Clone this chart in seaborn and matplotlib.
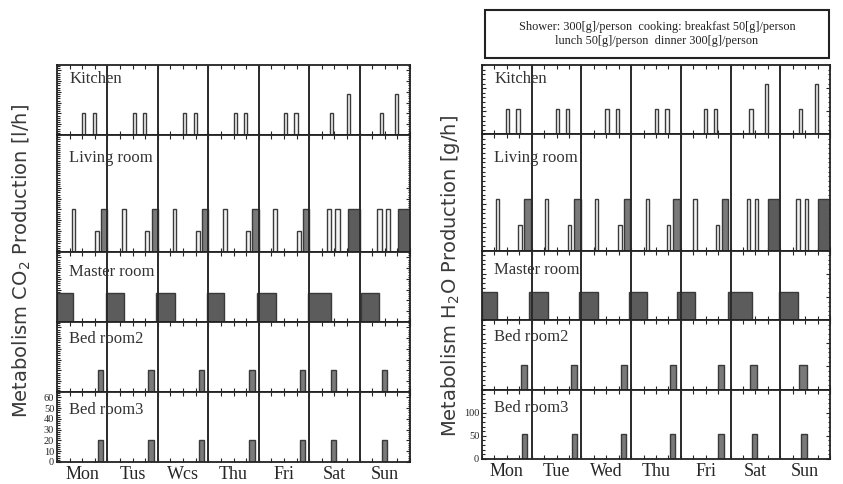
import matplotlib
matplotlib.use("Agg")
import matplotlib.pyplot as plt
from matplotlib.patches import Rectangle
from matplotlib.ticker import MultipleLocator, AutoMinorLocator
import seaborn as sns

# ---- data -------------------------------------------------------------
rooms = ["Kitchen", "Living room", "Master room", "Bed room2", "Bed room3"]
days_co2 = ["Mon", "Tus", "Wcs", "Thu", "Fri", "Sat", "Sun"]
days_h2o = ["Mon", "Tue", "Wed", "Thu", "Fri", "Sat", "Sun"]

# CO2 production [l/h]: start hour of week, duration [h], value
co2_kitchen_start = [12, 17, 36, 41, 60, 65, 84, 89, 108, 113, 130, 138, 153.5, 161]
co2_kitchen_dur = [1.5, 1.5, 1.5, 1.5, 1.5, 1.5, 1.5, 1.5, 1.5, 1.5, 1.5, 1.5, 1.5, 1.5]
co2_kitchen_val = [20, 20, 20, 20, 20, 20, 20, 20, 20, 20, 20, 38, 20, 38]

co2_living_start = [7, 18, 21, 31, 42, 45, 55, 66, 69, 79, 90, 93, 103, 114, 117,
                    128.5, 132.5, 138.5, 152.5, 156.5, 162.5]
co2_living_dur = [1.7, 2, 3, 1.7, 2, 3, 1.7, 2, 3, 1.7, 2, 3, 1.7, 2, 3,
                  2, 2, 5.5, 2, 2, 5.5]
co2_living_val = [40, 20, 40, 40, 20, 40, 40, 20, 40, 40, 20, 40, 40, 20, 40,
                  40, 40, 40, 40, 40, 40]

co2_master_start = [0, 23.3, 47.3, 71.2, 95.4, 119.3, 144.6]
co2_master_dur = [7.5, 8.5, 8.7, 8.5, 8.9, 11.1, 8.7]
co2_master_val = [27, 27, 27, 27, 27, 27, 27]

co2_bed2_start = [19.5, 43.5, 67.5, 91.5, 115.5, 130.5, 154.5]
co2_bed2_dur = [2.5, 2.5, 2.5, 2.5, 2.5, 2.5, 2.5]
co2_bed2_val = [20, 20, 20, 20, 20, 20, 20]

co2_bed3_start = [19.5, 43.5, 67.5, 91.5, 115.5, 130.5, 154.5]
co2_bed3_dur = [2.5, 2.5, 2.5, 2.5, 2.5, 2.5, 2.5]
co2_bed3_val = [20, 20, 20, 20, 20, 20, 20]

# H2O production [g/h]
h2o_kitchen_start = [11.5, 16.5, 35.5, 40.5, 59.5, 64.5, 83.5, 88.5, 107, 111.8,
                     129, 136.6, 152.8, 160.8]
h2o_kitchen_dur = [1.6, 1.6, 1.6, 1.6, 1.6, 1.6, 1.6, 1.6, 1.6, 1.6, 1.6, 1.6, 1.6, 1.6]
h2o_kitchen_val = [56, 56, 56, 56, 56, 56, 56, 56, 56, 56, 56, 110, 56, 110]

h2o_living_start = [6.8, 17.5, 20.5, 30.4, 41.4, 44.6, 54.6, 65.8, 68.6, 79, 89.2, 92.4,
                    102, 113, 115.7, 127.8, 131.8, 138.2, 151.6, 156, 162.1]
h2o_living_dur = [1.6, 1.6, 3, 1.6, 1.6, 3, 1.6, 1.6, 3, 1.6, 1.6, 3, 1.6, 1.6, 3,
                  1.6, 1.6, 5.2, 1.9, 1.6, 5.9]
h2o_living_val = [110, 55, 110, 110, 55, 110, 110, 55, 110, 110, 55, 110, 110, 55, 110,
                  110, 110, 110, 110, 110, 110]

h2o_master_start = [0, 22.8, 47, 71.1, 94, 118.6, 143.4]
h2o_master_dur = [7.1, 9.2, 9.2, 8.4, 8.9, 11.6, 9.3]
h2o_master_val = [60, 60, 60, 60, 60, 60, 60]

h2o_bed2_start = [18.7, 43, 67.1, 90.8, 114.1, 129.4, 153.2]
h2o_bed2_dur = [2.9, 2.7, 2.8, 2.7, 2.9, 3.5, 3.6]
h2o_bed2_val = [54, 54, 54, 54, 54, 54, 54]

h2o_bed3_start = [19.2, 43.3, 67.1, 90.8, 114.1, 130.2, 154]
h2o_bed3_dur = [2.4, 2.4, 2.4, 2.4, 2.8, 2.4, 2.8]
h2o_bed3_val = [54, 54, 54, 54, 54, 54, 54]

legend_text = ("Shower: 300[g]/person  cooking: breakfast 50[g]/person\n"
               "lunch 50[g]/person  dinner 300[g]/person")

# ---- style ------------------------------------------------------------
sns.set_theme(style="ticks")
plt.rcParams["font.family"] = ["Liberation Serif", "DejaVu Serif"]

fig = plt.figure(figsize=(8.43, 4.84), dpi=100)
fig.patch.set_facecolor("white")

ratios = [70, 117, 70, 70, 70]


def room_color(width):
    # long occupancy blocks darker, short ones outlined
    if width >= 5:
        return "#5c5c5c"
    if width >= 2.4:
        return "#7a7a7a"
    return "#f4f4f4"


def draw_panel(gs, data, days, ylims, bottom_ticks, room_pos):
    axes = []
    for i, (name, (st, du, va)) in enumerate(zip(rooms, data)):
        ax = fig.add_subplot(gs[i])
        cols = [room_color(w) for w in du]
        ax.bar(st, va, width=du, align="edge", color=cols,
               edgecolor="#3a3a3a", linewidth=1.0, zorder=2)
        for d in range(1, 7):
            ax.axvline(24 * d, color="#2a2a2a", lw=1.4, zorder=3)
        ax.set_xlim(0, 168)
        ax.set_ylim(0, ylims[i])
        ax.yaxis.set_minor_locator(AutoMinorLocator(5))
        ax.tick_params(axis="y", which="both", direction="in", left=True, right=True,
                       length=3, width=0.8, labelsize=7.5, pad=2)
        ax.tick_params(axis="y", which="minor", length=1.8)
        ax.set_xticks([12 + 24 * d for d in range(7)])
        ax.xaxis.set_minor_locator(MultipleLocator(6))
        ax.tick_params(axis="x", which="both", direction="in", top=True, bottom=True,
                       length=3, width=0.8)
        ax.set_yticks(bottom_ticks)
        if i == len(rooms) - 1:
            ax.set_xticklabels(days, fontsize=13)
            ax.tick_params(axis="x", which="major", pad=3)
        else:
            ax.set_yticklabels([])
            ax.set_xticklabels([])
        for sp in ax.spines.values():
            sp.set_linewidth(1.3)
            sp.set_color("#222222")
        ax.text(0.035, room_pos[i], name, transform=ax.transAxes, fontsize=12,
                color="#333333", va="center", ha="left", zorder=4)
        axes.append(ax)
    return axes


gs_left = fig.add_gridspec(5, 1, height_ratios=ratios, hspace=0,
                           left=0.0676, right=0.4864, top=0.8657, bottom=0.0455)
gs_right = fig.add_gridspec(5, 1, height_ratios=ratios, hspace=0,
                            left=0.5718, right=0.9846, top=0.8657, bottom=0.0517)

co2_data = [(co2_kitchen_start, co2_kitchen_dur, co2_kitchen_val),
            (co2_living_start, co2_living_dur, co2_living_val),
            (co2_master_start, co2_master_dur, co2_master_val),
            (co2_bed2_start, co2_bed2_dur, co2_bed2_val),
            (co2_bed3_start, co2_bed3_dur, co2_bed3_val)]
h2o_data = [(h2o_kitchen_start, h2o_kitchen_dur, h2o_kitchen_val),
            (h2o_living_start, h2o_living_dur, h2o_living_val),
            (h2o_master_start, h2o_master_dur, h2o_master_val),
            (h2o_bed2_start, h2o_bed2_dur, h2o_bed2_val),
            (h2o_bed3_start, h2o_bed3_dur, h2o_bed3_val)]

room_pos = [0.80, 0.80, 0.72, 0.75, 0.74]
draw_panel(gs_left, co2_data, days_co2, [65, 110, 65, 65, 65],
           [0, 10, 20, 30, 40, 50, 60], room_pos)
draw_panel(gs_right, h2o_data, days_h2o, [150, 250, 150, 150, 150],
           [0, 50, 100], room_pos)

# axis titles
fig.text(0.026, 0.46, "Metabolism CO$_2$ Production [l/h]", rotation=90,
         ha="center", va="center", fontsize=14, family="DejaVu Sans", color="#3a3a3a")
fig.text(0.534, 0.43, "Metabolism H$_2$O Production [g/h]", rotation=90,
         ha="center", va="center", fontsize=14, family="DejaVu Sans", color="#3a3a3a")

# note box
fig.patches.append(Rectangle((485 / 843, 1 - 58 / 484), 344 / 843, 48 / 484,
                             transform=fig.transFigure, fill=False,
                             edgecolor="#222222", linewidth=1.5))
fig.text(657 / 843, 1 - 34 / 484, legend_text, ha="center", va="center",
         fontsize=8.8, color="#222222", linespacing=1.25)

fig.savefig("out.png", dpi=100, facecolor="white")
